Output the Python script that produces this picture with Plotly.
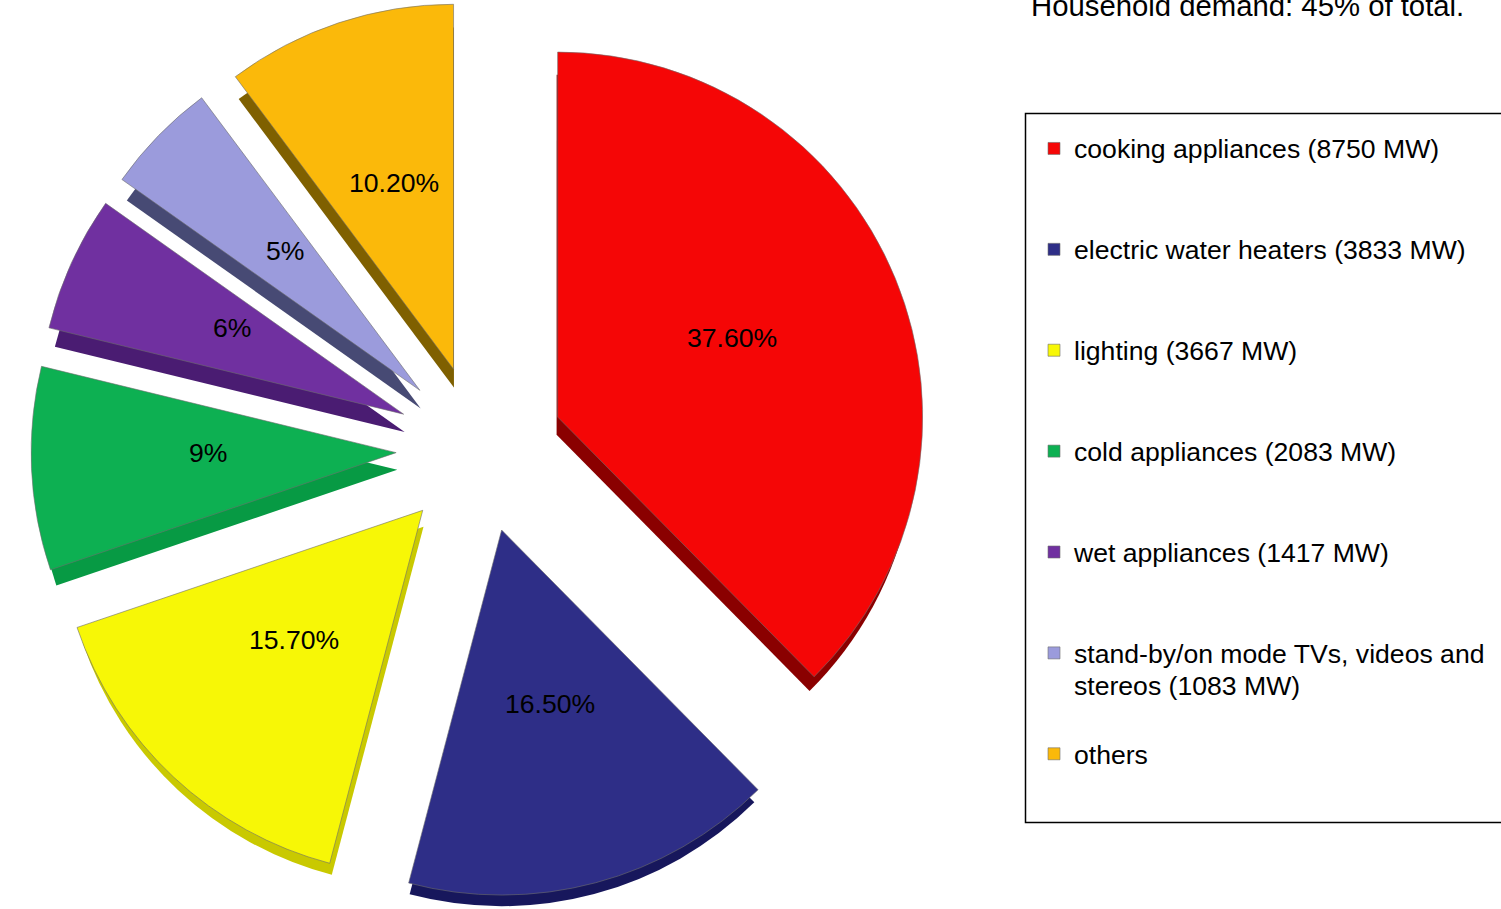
import math
import plotly.graph_objects as go

W, H = 1501, 909

shares = [37.6, 16.5, 15.7, 9, 6, 5, 10.2]
share_labels = ["37.60%", "16.50%", "15.70%", "9%", "6%", "5%", "10.20%"]
categories = [
    "cooking appliances (8750 MW)",
    "electric water heaters (3833 MW)",
    "lighting (3667 MW)",
    "cold appliances (2083 MW)",
    "wet appliances (1417 MW)",
    "stand-by/on mode TVs, videos and<br>stereos (1083 MW)",
    "others",
]
face_colors = ["#f50606", "#2e2e87", "#f7f706", "#0db052", "#7030a0", "#9b9bdc", "#fbb90a"]
side_colors = ["#8a0000", "#17175c", "#c9c900", "#079a44", "#4a1c72", "#474a74", "#7f6000"]
title_text = "Household demand: 45% of total."

TEXT_SIZE = 26.6
LEGEND_SIZE = 25.1   # sets the row height of the legend


def legend_label(s):
    # The swatch sits on the middle line of an entry: pad to three lines so
    # that it lines up with the first line of text, as in the reference.
    lines = [f'<span style="font-size:{TEXT_SIZE}px">{p}</span>' for p in s.split("<br>")]
    pad = ["\u00a0"] + lines + ["\u00a0"] * (2 - len(lines))
    return "<br>".join(pad)


def dom_x(cx, half):
    return [(cx - half) / W, (cx + half) / W]


def dom_y(cy, half):
    return [1 - (cy + half) / H, 1 - (cy - half) / H]


PULL = 0.23
R_TOP, R_SIDE = 365, 360
CX, CY_TOP = 480, R_TOP * (1 + PULL)
CY_SIDE = H - R_SIDE * (1 + PULL)
LABEL_CX, LABEL_CY, LABEL_DIST = 480, 441, 272

fig = go.Figure()
fig.add_trace(go.Pie(
    values=shares, labels=[f"side {i}" for i in range(len(shares))],
    sort=False, direction="clockwise", rotation=0, pull=PULL,
    marker=dict(colors=side_colors, line=dict(width=0)),
    textinfo="none", hoverinfo="skip", showlegend=False,
    domain=dict(x=dom_x(CX, R_SIDE * (1 + PULL)), y=dom_y(CY_SIDE, R_SIDE * (1 + PULL))),
))
fig.add_trace(go.Pie(
    values=shares, labels=[legend_label(c) for c in categories],
    sort=False, direction="clockwise", rotation=0, pull=PULL,
    marker=dict(colors=face_colors, line=dict(color="rgba(110,110,110,0.6)", width=1)),
    textinfo="none", hoverinfo="skip",
    domain=dict(x=dom_x(CX, R_TOP * (1 + PULL)), y=dom_y(CY_TOP, R_TOP * (1 + PULL))),
))

# Value labels sit at a fixed distance along each slice's bisector.
annotations = []
total = sum(shares)
cum = 0.0
for v, t in zip(shares, share_labels):
    theta = 2 * math.pi * (cum + v / 2) / total
    cum += v
    annotations.append(dict(
        text=t, xref="paper", yref="paper", showarrow=False,
        x=(LABEL_CX + LABEL_DIST * math.sin(theta)) / W,
        y=1 - (LABEL_CY - LABEL_DIST * math.cos(theta)) / H,
        xanchor="center", yanchor="middle",
        font=dict(size=TEXT_SIZE, family="Liberation Sans", color="black"),
    ))
annotations.append(dict(
    text=title_text, x=1028.5 / W, y=1 - 6 / H, xref="paper", yref="paper",
    xanchor="left", yanchor="middle", showarrow=False,
    font=dict(size=29.3, family="Liberation Sans", color="black"),
))

fig.update_layout(
    width=W, height=H, autosize=False,
    margin=dict(l=0, r=0, t=0, b=0, pad=0, autoexpand=False),
    paper_bgcolor="white",
    font=dict(family="Liberation Sans", size=26, color="black"),
    legend=dict(x=1042 / W, y=1 - 93 / H, xanchor="left", yanchor="top",
                indentation=-8, traceorder="normal", bgcolor="rgba(0,0,0,0)",
                font=dict(size=LEGEND_SIZE, family="Liberation Sans", color="black")),
    shapes=[dict(type="rect", xref="paper", yref="paper",
                 x0=1025.5 / W, x1=1.01, y0=1 - 822.5 / H, y1=1 - 113.5 / H,
                 line=dict(color="black", width=1.5), fillcolor="rgba(0,0,0,0)")],
    annotations=annotations,
)
fig.write_html("out.html", config=dict(displayModeBar=False),
               post_script="document.body.style.margin='0';document.body.style.overflow='hidden';")
